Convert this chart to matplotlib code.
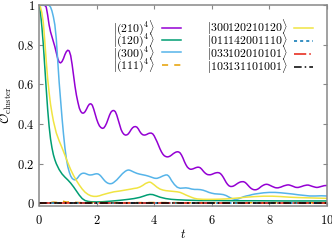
import matplotlib
matplotlib.use("Agg")
import matplotlib.pyplot as plt

# values, (t, O) pairs
pts_210 = [(0, 1.0), (0.1, 1.0), (0.2, 0.998), (0.25, 0.99), (0.3, 0.95), (0.35, 0.9), (0.4, 0.865),
           (0.45, 0.84), (0.5, 0.815), (0.55, 0.79), (0.6, 0.76), (0.65, 0.73), (0.7, 0.712), (0.75, 0.708),
           (0.8, 0.715), (0.85, 0.73), (0.9, 0.75), (0.95, 0.765), (1.0, 0.772), (1.05, 0.768), (1.1, 0.745),
           (1.15, 0.70), (1.2, 0.645), (1.25, 0.59), (1.3, 0.545), (1.35, 0.51), (1.4, 0.48), (1.45, 0.463),
           (1.5, 0.455), (1.55, 0.455), (1.6, 0.462), (1.65, 0.475), (1.7, 0.49), (1.75, 0.5), (1.8, 0.502),
           (1.85, 0.495), (1.9, 0.475), (1.95, 0.45), (2.0, 0.425), (2.05, 0.405), (2.1, 0.39), (2.15, 0.382),
           (2.2, 0.378), (2.25, 0.38), (2.3, 0.39), (2.35, 0.405), (2.4, 0.425), (2.45, 0.445), (2.5, 0.46),
           (2.55, 0.467), (2.6, 0.468), (2.65, 0.462), (2.7, 0.445), (2.75, 0.42), (2.8, 0.395), (2.85, 0.372),
           (2.9, 0.357), (2.95, 0.348), (3.0, 0.344), (3.05, 0.345), (3.1, 0.35), (3.15, 0.36), (3.2, 0.372),
           (3.25, 0.381), (3.3, 0.386), (3.35, 0.387), (3.4, 0.384), (3.45, 0.375), (3.5, 0.362), (3.55, 0.352),
           (3.6, 0.346), (3.65, 0.344), (3.7, 0.345), (3.75, 0.348), (3.8, 0.352), (3.85, 0.354), (3.9, 0.354),
           (3.95, 0.35), (4.0, 0.34), (4.05, 0.325), (4.1, 0.31), (4.15, 0.292), (4.2, 0.275), (4.25, 0.26),
           (4.3, 0.248), (4.35, 0.24), (4.4, 0.236), (4.45, 0.234), (4.5, 0.235), (4.55, 0.238), (4.6, 0.243),
           (4.65, 0.249), (4.7, 0.254), (4.75, 0.258), (4.8, 0.26), (4.85, 0.259), (4.9, 0.254), (4.95, 0.243),
           (5.0, 0.228), (5.05, 0.21), (5.1, 0.195), (5.15, 0.183), (5.2, 0.176), (5.25, 0.172), (5.3, 0.172),
           (5.35, 0.174), (5.4, 0.177), (5.45, 0.18), (5.5, 0.182), (5.55, 0.182), (5.6, 0.179), (5.65, 0.172),
           (5.7, 0.163), (5.75, 0.155), (5.8, 0.149), (5.85, 0.145), (5.9, 0.144), (5.95, 0.144), (6.0, 0.146),
           (6.05, 0.149), (6.1, 0.152), (6.15, 0.154), (6.2, 0.155), (6.25, 0.154), (6.3, 0.15), (6.35, 0.142),
           (6.4, 0.131), (6.45, 0.118), (6.5, 0.105), (6.55, 0.095), (6.6, 0.088), (6.65, 0.085), (6.7, 0.085),
           (6.75, 0.087), (6.8, 0.091), (6.85, 0.096), (6.9, 0.101), (6.95, 0.105), (7.0, 0.108), (7.05, 0.109),
           (7.1, 0.109), (7.15, 0.106), (7.2, 0.1), (7.25, 0.092), (7.3, 0.084), (7.35, 0.077), (7.4, 0.072),
           (7.45, 0.069), (7.5, 0.068), (7.55, 0.069), (7.6, 0.072), (7.65, 0.077), (7.7, 0.083), (7.75, 0.088),
           (7.8, 0.092), (7.85, 0.095), (7.9, 0.096), (7.95, 0.095), (8.0, 0.092), (8.1, 0.085), (8.2, 0.079),
           (8.25, 0.078), (8.3, 0.078), (8.4, 0.082), (8.5, 0.088), (8.6, 0.092), (8.65, 0.093), (8.7, 0.092),
           (8.8, 0.087), (8.9, 0.081), (8.95, 0.08), (9.0, 0.08), (9.1, 0.084), (9.2, 0.089), (9.3, 0.092),
           (9.35, 0.092), (9.4, 0.09), (9.5, 0.085), (9.6, 0.081), (9.65, 0.08), (9.7, 0.081), (9.8, 0.085),
           (9.9, 0.089), (10, 0.09)]

pts_120 = [(0, 1.0), (0.03, 0.98), (0.06, 0.95), (0.1, 0.89), (0.15, 0.8), (0.2, 0.69), (0.25, 0.58),
           (0.3, 0.475), (0.35, 0.39), (0.4, 0.325), (0.45, 0.28), (0.5, 0.245), (0.55, 0.22), (0.6, 0.2),
           (0.7, 0.17), (0.8, 0.148), (0.9, 0.132), (1.0, 0.118), (1.1, 0.102), (1.2, 0.083), (1.3, 0.062),
           (1.4, 0.041), (1.5, 0.024), (1.6, 0.014), (1.7, 0.01), (1.8, 0.008), (2.0, 0.007), (2.2, 0.008),
           (2.5, 0.011), (2.8, 0.015), (3.1, 0.02), (3.3, 0.024), (3.5, 0.03), (3.65, 0.037), (3.75, 0.042),
           (3.85, 0.045), (3.95, 0.044), (4.05, 0.039), (4.2, 0.031), (4.4, 0.024), (4.6, 0.02), (4.8, 0.018),
           (5.1, 0.016), (5.6, 0.014), (6.2, 0.014), (6.8, 0.013), (7.5, 0.013), (8.5, 0.012), (10, 0.012)]

pts_300 = [(0, 1.0), (0.3, 1.0), (0.35, 0.998), (0.4, 0.99), (0.45, 0.97), (0.5, 0.94), (0.55, 0.9),
           (0.6, 0.83), (0.65, 0.72), (0.7, 0.61), (0.75, 0.52), (0.8, 0.43), (0.85, 0.35), (0.9, 0.28),
           (0.95, 0.225), (1.0, 0.185), (1.05, 0.158), (1.1, 0.138), (1.15, 0.126), (1.2, 0.12), (1.25, 0.118),
           (1.3, 0.122), (1.35, 0.13), (1.4, 0.14), (1.45, 0.147), (1.5, 0.151), (1.55, 0.152), (1.6, 0.151),
           (1.65, 0.148), (1.7, 0.145), (1.75, 0.143), (1.8, 0.143), (1.85, 0.144), (1.9, 0.146), (1.95, 0.148),
           (2.0, 0.149), (2.05, 0.148), (2.1, 0.144), (2.15, 0.137), (2.2, 0.128), (2.25, 0.119), (2.3, 0.111),
           (2.35, 0.105), (2.4, 0.101), (2.45, 0.099), (2.5, 0.099), (2.55, 0.101), (2.6, 0.106), (2.7, 0.118),
           (2.8, 0.134), (2.9, 0.15), (3.0, 0.162), (3.05, 0.166), (3.1, 0.168), (3.15, 0.167), (3.2, 0.164),
           (3.3, 0.157), (3.4, 0.151), (3.5, 0.147), (3.6, 0.144), (3.7, 0.141), (3.8, 0.137), (3.9, 0.132),
           (4.0, 0.127), (4.05, 0.126), (4.1, 0.126), (4.2, 0.131), (4.3, 0.138), (4.4, 0.143), (4.45, 0.143),
           (4.5, 0.138), (4.55, 0.128), (4.6, 0.115), (4.7, 0.095), (4.8, 0.081), (4.9, 0.076), (5.0, 0.077),
           (5.1, 0.078), (5.2, 0.076), (5.3, 0.072), (5.4, 0.07), (5.5, 0.07), (5.6, 0.069), (5.7, 0.066),
           (5.8, 0.061), (5.9, 0.055), (6.0, 0.051), (6.1, 0.048), (6.2, 0.047), (6.3, 0.046), (6.4, 0.044),
           (6.5, 0.039), (6.6, 0.031), (6.7, 0.024), (6.8, 0.02), (6.9, 0.021), (7.0, 0.027), (7.1, 0.033),
           (7.2, 0.037), (7.3, 0.04), (7.4, 0.044), (7.5, 0.047), (7.6, 0.049), (7.7, 0.051), (7.8, 0.053),
           (7.9, 0.054), (8.0, 0.055), (8.2, 0.055), (8.4, 0.053), (8.6, 0.05), (8.8, 0.047), (9.0, 0.043),
           (9.2, 0.04), (9.4, 0.037), (9.6, 0.037), (9.8, 0.038), (10, 0.037)]

pts_111 = [(0, 0.0), (0.3, 0.001), (0.5, 0.006), (0.65, 0.004), (0.8, 0.012), (0.95, 0.006), (1.1, 0.008),
           (1.25, 0.005), (1.5, 0.003), (2, 0.004), (3, 0.003), (4, 0.004), (5, 0.003), (6, 0.003),
           (7, 0.003), (8, 0.003), (9, 0.003), (10, 0.003)]

pts_a = [(0, 1.0), (0.05, 0.99), (0.1, 0.96), (0.15, 0.91), (0.2, 0.82), (0.25, 0.72), (0.3, 0.63),
         (0.35, 0.56), (0.4, 0.5), (0.45, 0.455), (0.5, 0.415), (0.55, 0.385), (0.6, 0.355), (0.7, 0.315),
         (0.8, 0.28), (0.9, 0.243), (1.0, 0.205), (1.1, 0.17), (1.2, 0.14), (1.3, 0.115), (1.4, 0.092),
         (1.5, 0.072), (1.6, 0.056), (1.7, 0.045), (1.8, 0.038), (1.9, 0.035), (2.0, 0.035), (2.1, 0.038),
         (2.2, 0.043), (2.4, 0.051), (2.6, 0.058), (2.8, 0.062), (3.0, 0.067), (3.2, 0.072), (3.3, 0.075),
         (3.4, 0.077), (3.5, 0.082), (3.6, 0.09), (3.7, 0.1), (3.8, 0.106), (3.85, 0.107), (3.9, 0.104),
         (4.0, 0.093), (4.1, 0.081), (4.2, 0.072), (4.3, 0.067), (4.4, 0.064), (4.6, 0.061), (4.8, 0.058),
         (4.9, 0.055), (5.0, 0.049), (5.1, 0.042), (5.2, 0.036), (5.3, 0.03), (5.4, 0.025), (5.5, 0.022),
         (5.7, 0.02), (6.0, 0.02), (6.3, 0.021), (6.6, 0.023), (6.9, 0.027), (7.2, 0.031), (7.5, 0.034),
         (7.8, 0.036), (8.1, 0.036), (8.4, 0.034), (8.7, 0.031), (9.0, 0.029), (9.5, 0.027), (10, 0.025)]

pts_b = [(0, 0.0), (10, 0.0)]
pts_c = [(0, 0.0), (10, 0.0)]
pts_d = [(0, 0.0), (10, 0.0)]

labels = [r'$|(210)^4\rangle$', r'$|(120)^4\rangle$', r'$|(300)^4\rangle$', r'$|(111)^4\rangle$',
          r'$|300120210120\rangle$', r'$|011142001110\rangle$',
          r'$|033102010101\rangle$', r'$|103131101001\rangle$']

xticks = [0, 2, 4, 6, 8, 10]
xtick_labels = ['0', '2', '4', '6', '8', '10']
yticks = [0, 0.2, 0.4, 0.6, 0.8, 1]
ytick_labels = ['0', '0.2', '0.4', '0.6', '0.8', '1']

plt.rcParams.update({
    "mathtext.fontset": "cm",
    "font.family": "serif",
    "font.serif": ["DejaVu Serif"],
    "font.size": 9,
})

W, H = 332, 241
fig = plt.figure(figsize=(W/100, H/100), dpi=100)
ax = fig.add_axes([39/W, 1 - 205.5/H, 288/W, 200.5/H])

lw = 1.1
styles = [
    (pts_210, dict(color='#9400d3')),
    (pts_120, dict(color='#009e73')),
    (pts_300, dict(color='#56b4e9')),
    (pts_111, dict(color='#e69f00', dashes=(4, 4))),
    (pts_a, dict(color='#f0e442')),
    (pts_b, dict(color='#0072b2', dashes=(2, 2))),
    (pts_c, dict(color='#e51e10', dashes=(8, 2, 1, 2))),
    (pts_d, dict(color='black', dashes=(5, 2, 1, 2))),
]
for (pts, kw), lab in zip(styles, labels):
    t, y = zip(*pts)
    ax.plot(t, y, lw=lw, label=lab, **kw)

ax.set_xlim(0, 10)
ax.set_ylim(-0.011, 1.0)
ax.set_xticks(xticks)
ax.set_xticklabels(['$%s$' % s for s in xtick_labels])
ax.set_yticks(yticks)
ax.set_yticklabels(['$%s$' % s for s in ytick_labels])

for sp in ax.spines.values():
    sp.set_color('#888888')
    sp.set_linewidth(1.1)
ax.tick_params(direction='in', top=True, right=True, length=3, width=0.8,
               color='#888888', labelsize=9)
ax.tick_params(axis='x', pad=6)
ax.tick_params(axis='y', pad=3)

ax.set_xlabel('$t$', fontsize=9, labelpad=1)
ax.set_ylabel(r'$\mathcal{O}_{\rm cluster}$', fontsize=9, labelpad=2)

# legend: gnuplot-like key, label first then sample; placed by measuring
leg_fs = 8.5
fs_px = leg_fs * 100 / 72


def make_legend(ls, cs, ax_x, ax_y):
    return ax.legend(ncol=2, markerfirst=False, frameon=False, fontsize=leg_fs,
                     loc='upper right', bbox_to_anchor=(ax_x, ax_y),
                     bbox_transform=fig.transFigure, borderpad=0, borderaxespad=0,
                     handlelength=1.6, handletextpad=0.6, columnspacing=cs,
                     labelspacing=ls)


def measure(leg):
    fig.canvas.draw()
    r = fig.canvas.get_renderer()
    hb = [h.get_window_extent(r) for h in leg.legend_handles]
    return hb


ls, cs, anc_x, anc_y = -0.25, 1.4, 313/W, 1 - 25/H
leg = make_legend(ls, cs, anc_x, anc_y)
hb = measure(leg)
row = ((hb[0].y0 + hb[0].y1) - (hb[3].y0 + hb[3].y1)) / 2 / 3
ls += (12.2 - row) / fs_px
cs -= (181 - hb[0].x1) / fs_px
leg.remove()
for _ in range(2):
    leg = make_legend(ls, cs, anc_x, anc_y)
    hb = measure(leg)
    anc_x += (313 - hb[4].x1) / W
    anc_y += ((H - 28) - (hb[0].y0 + hb[0].y1) / 2) / H
    leg.remove()
leg = make_legend(ls, cs, anc_x, anc_y)

fig.savefig('out.png', dpi=100)
